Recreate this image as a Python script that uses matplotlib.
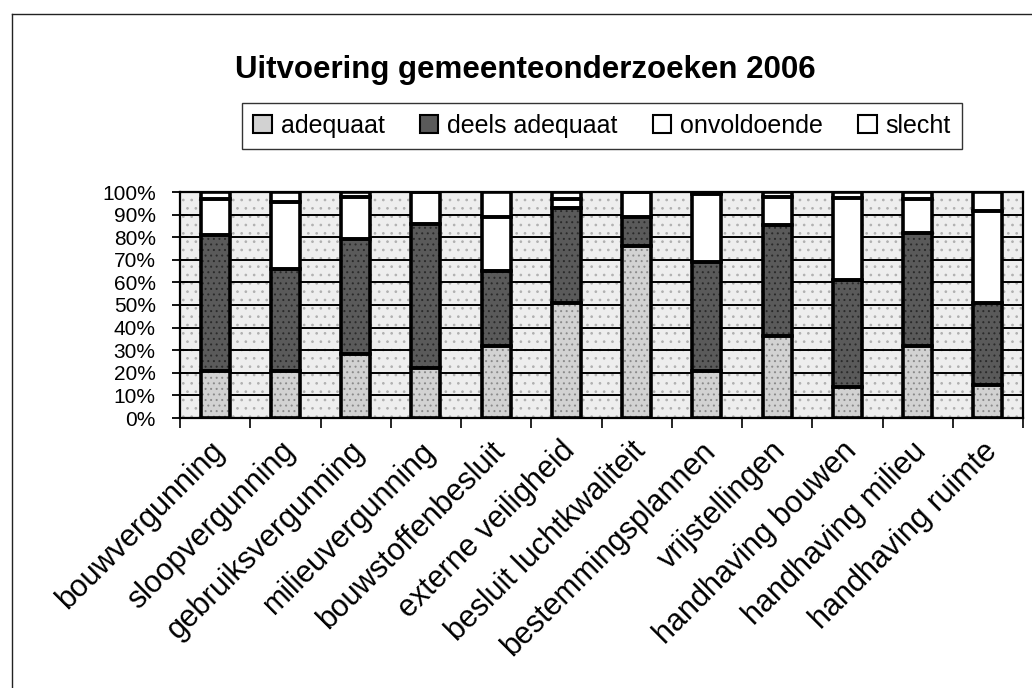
import matplotlib
matplotlib.use("Agg")
import matplotlib.pyplot as plt
import matplotlib.transforms as mtransforms
from matplotlib.patches import Rectangle, Patch
from matplotlib.lines import Line2D
import numpy as np

plt.rcParams["font.family"] = ["Liberation Sans", "DejaVu Sans"]
plt.rcParams["hatch.linewidth"] = 0.7

categories = ["bouwvergunning", "sloopvergunning", "gebruiksvergunning",
              "milieuvergunning", "bouwstoffenbesluit", "externe veiligheid",
              "besluit luchtkwaliteit", "bestemmingsplannen", "vrijstellingen",
              "handhaving bouwen", "handhaving milieu", "handhaving ruimte"]
adequaat = [21, 21, 28.5, 22, 32, 51, 76, 21, 36.5, 13.5, 32, 14.5]
deels_adequaat = [60, 45, 50.5, 64, 33, 42, 13, 48, 49, 47.5, 50, 36.5]
onvoldoende = [16, 29.5, 19, 14, 24, 4, 11, 30, 12.5, 36.5, 15, 40.5]
slecht = [3, 4.5, 2, 0, 11, 3, 0, 1, 2, 2.5, 3, 8.5]
series_names = ["adequaat", "deels adequaat", "onvoldoende", "slecht"]
yticks = [0, 10, 20, 30, 40, 50, 60, 70, 80, 90, 100]

series = [adequaat, deels_adequaat, onvoldoende, slecht]
fills = ["#d2d2d2", "#5a5a5a", "white", "white"]
hatches = ["...", "...", None, None]
hatch_cols = ["#8a8a8a", "#2a2a2a", "white", "white"]

fig = plt.figure(figsize=(10.32, 6.88), dpi=100)
ax = fig.add_axes([180 / 1032, 1 - 418 / 688, 843 / 1032, 226 / 688])

# textured plot background
ax.set_facecolor("#eeeeee")
ax.add_patch(Rectangle((0, 0), 1, 1, transform=ax.transAxes, facecolor="#eeeeee",
                       edgecolor="#b0b0b0", hatch="..", lw=0, zorder=0))

x = np.arange(len(categories))
bottom = np.zeros(len(x))
for vals, fc, h, hc in zip(series, fills, hatches, hatch_cols):
    ax.bar(x, vals, width=0.41, bottom=bottom, color=fc, hatch=h,
           edgecolor=hc, linewidth=0, zorder=3)
    ax.bar(x, vals, width=0.41, bottom=bottom, fill=False,
           edgecolor="black", linewidth=2.6, zorder=4)
    bottom += np.array(vals)

ax.set_xlim(-0.5, len(x) - 0.5)
ax.set_ylim(0, 100)
ax.set_yticks(yticks)
ax.set_yticklabels([f"{v}%" for v in yticks], fontsize=15)
ax.yaxis.grid(True, color="black", lw=1.4, zorder=1)
ax.tick_params(axis="y", direction="inout", length=11, width=1.3, pad=12)

ax.set_xticks(x)
ax.set_xticklabels(categories, rotation=45, ha="right", va="top",
                   rotation_mode="anchor", fontsize=22)
ax.set_xticks(np.arange(-0.5, len(x)), minor=True)
ax.tick_params(axis="x", which="major", length=0, pad=13)
ax.tick_params(axis="x", which="minor", direction="out", length=7, width=1.2)
shift = mtransforms.ScaledTranslation(-6 / 100, 0, fig.dpi_scale_trans)
for lbl in ax.get_xticklabels():
    lbl.set_transform(lbl.get_transform() + shift)

for s in ax.spines.values():
    s.set_linewidth(1.6)
    s.set_color("black")

fig.text(525 / 1032, 1 - 70 / 688, "Uitvoering gemeenteonderzoeken 2006",
         ha="center", va="center", fontsize=22.5, weight="bold")

handles = [Patch(facecolor=fc, edgecolor="black", lw=1.5) for fc in fills]
leg = fig.legend(handles, series_names, loc="center",
                 bbox_to_anchor=(602 / 1032, 1 - 126 / 688), ncol=4,
                 fontsize=18, frameon=True, fancybox=False, edgecolor="black",
                 handlelength=0.75, handleheight=0.75, handletextpad=0.35,
                 columnspacing=1.4, borderpad=0.45, borderaxespad=0)
leg.get_frame().set_linewidth(1.0)

# outer chart frame
fig.add_artist(Line2D([12 / 1032, 12 / 1032], [0, 1 - 14 / 688],
                      transform=fig.transFigure, color="#222222", lw=1.0))
fig.add_artist(Line2D([12 / 1032, 1], [1 - 14 / 688, 1 - 14 / 688],
                      transform=fig.transFigure, color="#222222", lw=1.0))

fig.savefig("out.png", dpi=100)
